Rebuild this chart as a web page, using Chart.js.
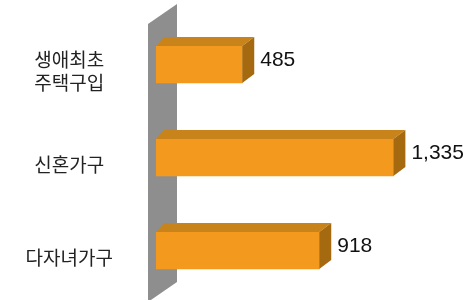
<!DOCTYPE html>
<html>
<head>
<meta charset="utf-8">
<script src="https://cdn.jsdelivr.net/npm/chart.js@4"></script>
<style>
html,body{margin:0;padding:0;background:#fff;}
#wrap{width:469px;height:300px;position:relative;}
</style>
</head>
<body>
<div id="wrap"><canvas id="c" width="469" height="300"></canvas></div>
<script>
const categories = [['생애최초','주택구입'], '신혼가구', '다자녀가구'];
const values = [485, 1335, 918];
const valueLabels = ['485', '1,335', '918'];

const FRONT = '#F39A1E';
const TOP = '#C8841B';
const SIDE = '#A56A10';
const WALL = '#8E8E8E';
const DX = 12, DY = -9;

const threeD = {
  id: 'threeD',
  beforeDatasetsDraw(chart) {
    const ctx = chart.ctx;
    const ca = chart.chartArea;
    const x0 = chart.scales.x.getPixelForValue(0);
    ctx.save();
    ctx.fillStyle = WALL;
    ctx.beginPath();
    ctx.moveTo(x0 - 8, ca.top + 6);
    ctx.lineTo(x0 + 21, ca.top - 14);
    ctx.lineTo(x0 + 21, ca.bottom - 15);
    ctx.lineTo(x0 - 8, ca.bottom + 5);
    ctx.closePath();
    ctx.fill();
    ctx.restore();
  },
  afterDatasetsDraw(chart) {
    const ctx = chart.ctx;
    const meta = chart.getDatasetMeta(0);
    ctx.save();
    meta.data.forEach((bar, i) => {
      const p = bar.getProps(['x', 'y', 'base', 'height'], true);
      const x1 = p.x, xb = p.base;
      const top = p.y - p.height / 2, bottom = p.y + p.height / 2;
      ctx.fillStyle = TOP;
      ctx.beginPath();
      ctx.moveTo(xb, top);
      ctx.lineTo(xb + 8, top + DY);
      ctx.lineTo(x1 + DX, top + DY);
      ctx.lineTo(x1, top);
      ctx.closePath();
      ctx.fill();
      ctx.fillStyle = SIDE;
      ctx.beginPath();
      ctx.moveTo(x1, top);
      ctx.lineTo(x1 + DX, top + DY);
      ctx.lineTo(x1 + DX, bottom + DY);
      ctx.lineTo(x1, bottom);
      ctx.closePath();
      ctx.fill();
      ctx.fillStyle = '#111';
      ctx.font = '21px "Liberation Sans", Arial, sans-serif';
      ctx.textAlign = 'left';
      ctx.textBaseline = 'middle';
      ctx.fillText(valueLabels[i], x1 + DX + 6, p.y - 4);
    });
    ctx.restore();
  }
};

new Chart(document.getElementById('c'), {
  type: 'bar',
  data: {
    labels: categories,
    datasets: [{
      data: values,
      backgroundColor: FRONT,
      borderWidth: 0,
      barThickness: 37
    }]
  },
  options: {
    indexAxis: 'y',
    responsive: false,
    animation: false,
    layout: { padding: { top: 18, bottom: 3, right: 28.5, left: 0 } },
    plugins: { legend: { display: false }, tooltip: { enabled: false } },
    scales: {
      x: { display: false, min: 0, max: 1600 },
      y: {
        grid: { display: false, drawTicks: false },
        border: { display: false },
        afterFit(scale) {
          scale.width = 156;
          scale.paddingTop = 0;
          scale.paddingBottom = 0;
          scale.paddingLeft = 0;
          scale.paddingRight = 0;
        },
        ticks: {
          crossAlign: 'center',
          padding: 43,
          labelOffset: 7,
          color: '#222',
          font: { family: '"Noto Sans CJK KR", sans-serif', size: 19, lineHeight: 1.2 }
        }
      }
    }
  },
  plugins: [threeD]
});
</script>
</body>
</html>
